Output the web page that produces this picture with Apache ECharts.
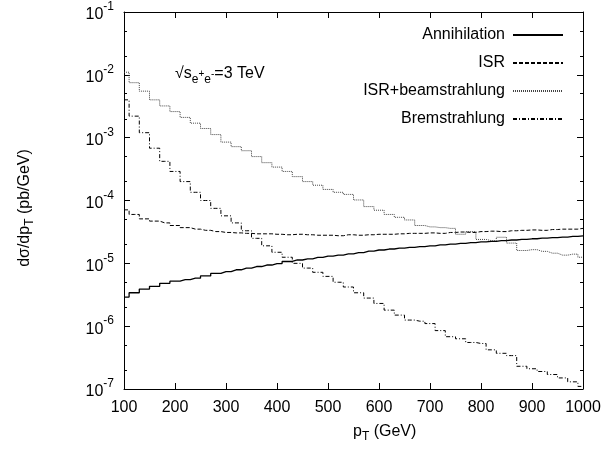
<!DOCTYPE html>
<html>
<head>
<meta charset="utf-8">
<script src="https://cdn.jsdelivr.net/npm/echarts@6/dist/echarts.min.js"></script>
<style>
  html, body { margin: 0; padding: 0; background: #fff; }
  #chart { width: 604px; height: 453px; }
</style>
</head>
<body>
<div id="chart"></div>
<script>
// Photon transverse-momentum spectra at sqrt(s) = 3 TeV (20 GeV bins)
const pT = [100, 120, 140, 160, 180, 200, 220, 240, 260, 280,
            300, 320, 340, 360, 380, 400, 420, 440, 460, 480,
            500, 520, 540, 560, 580, 600, 620, 640, 660, 680,
            700, 720, 740, 760, 780, 800, 820, 840, 860, 880,
            900, 920, 940, 960, 980, 1000];

const annihilation = [2.9e-6, 3.4e-6, 3.9e-6, 4.3e-6, 4.8e-6, 5.2e-6, 5.5e-6, 5.8e-6, 6.3e-6, 6.9e-6,
                      7.4e-6, 7.9e-6, 8.4e-6, 8.9e-6, 9.4e-6, 9.9e-6, 1.07e-5, 1.13e-5, 1.18e-5, 1.24e-5,
                      1.3e-5, 1.35e-5, 1.41e-5, 1.48e-5, 1.56e-5, 1.63e-5, 1.69e-5, 1.74e-5, 1.8e-5, 1.85e-5,
                      1.9e-5, 1.96e-5, 2.02e-5, 2.08e-5, 2.13e-5, 2.19e-5, 2.24e-5, 2.3e-5, 2.35e-5, 2.4e-5,
                      2.46e-5, 2.51e-5, 2.57e-5, 2.62e-5, 2.68e-5, 2.74e-5];

const isr = [7.1e-5, 6.0e-5, 5.1e-5, 4.7e-5, 4.4e-5, 4.0e-5, 3.7e-5, 3.5e-5, 3.35e-5, 3.2e-5,
             3.1e-5, 3.05e-5, 3.0e-5, 2.95e-5, 2.95e-5, 2.9e-5, 2.85e-5, 2.9e-5, 2.85e-5, 2.8e-5,
             2.8e-5, 2.75e-5, 2.85e-5, 2.8e-5, 2.85e-5, 2.9e-5, 2.9e-5, 2.95e-5, 3.0e-5, 3.0e-5,
             3.05e-5, 3.0e-5, 3.1e-5, 3.15e-5, 3.1e-5, 3.2e-5, 3.25e-5, 3.2e-5, 3.3e-5, 3.35e-5,
             3.4e-5, 3.35e-5, 3.45e-5, 3.5e-5, 3.5e-5, 3.6e-5];

const isrBeam = [1.1e-2, 7.5e-3, 5.5e-3, 4.0e-3, 3.2e-3, 2.6e-3, 2.1e-3, 1.7e-3, 1.4e-3, 1.12e-3,
                 8.5e-4, 7.2e-4, 6.2e-4, 5.0e-4, 4.0e-4, 3.4e-4, 2.9e-4, 2.4e-4, 2.0e-4, 1.75e-4,
                 1.5e-4, 1.35e-4, 1.25e-4, 1.02e-4, 8.0e-5, 7.0e-5, 6.0e-5, 5.4e-5, 4.9e-5, 4.0e-5,
                 3.8e-5, 3.7e-5, 3.6e-5, 2.9e-5, 3.2e-5, 2.4e-5, 2.3e-5, 2.6e-5, 2.1e-5, 1.6e-5,
                 1.65e-5, 1.55e-5, 1.45e-5, 1.35e-5, 1.4e-5, 1.25e-5];

const brems = [4.0e-3, 2.2e-3, 1.2e-3, 6.8e-4, 4.2e-4, 2.9e-4, 2.0e-4, 1.35e-4, 1.0e-4, 7.5e-5,
               5.7e-5, 4.4e-5, 3.3e-5, 2.5e-5, 1.9e-5, 1.5e-5, 1.25e-5, 1.0e-5, 8.4e-6, 7.2e-6,
               6.2e-6, 5.0e-6, 4.2e-6, 3.4e-6, 2.8e-6, 2.3e-6, 1.8e-6, 1.5e-6, 1.25e-6, 1.2e-6,
               1.1e-6, 8.5e-7, 6.8e-7, 6.3e-7, 5.5e-7, 5.3e-7, 4.2e-7, 3.7e-7, 3.4e-7, 2.3e-7,
               2.1e-7, 1.9e-7, 1.7e-7, 1.5e-7, 1.3e-7, 1.1e-7];

const seriesNames = ['Annihilation', 'ISR', 'ISR+beamstrahlung', 'Bremstrahlung'];

// Axis ticks
const xTickLabels = ['100', '200', '300', '400', '500', '600', '700', '800', '900', '1000'];
const yTickValues = [1e-7, 1e-6, 1e-5, 1e-4, 1e-3, 1e-2, 1e-1];
const yMinorValues = [2e-7, 5e-7, 2e-6, 5e-6, 2e-5, 5e-5, 2e-4, 5e-4, 2e-3, 5e-3, 2e-2, 5e-2];

const FONT = '"Liberation Sans", Arial, sans-serif';

const pairs = (ys) => pT.map((x, i) => [x, ys[i]]);

const chart = echarts.init(document.getElementById('chart'), null, { renderer: 'canvas' });

const xBase = {
  type: 'value', min: 100, max: 1000, interval: 100,
  axisLine: { show: true, lineStyle: { color: '#000', width: 1 } },
  axisTick: { show: true, inside: true, length: 6, lineStyle: { color: '#000' } },
  splitLine: { show: false }
};

const yBase = {
  type: 'log', logBase: 10, min: 1e-7, max: 1e-1,
  axisLine: { show: true, lineStyle: { color: '#000', width: 1 } },
  axisTick: { show: true, inside: true, length: 6, customValues: yTickValues, lineStyle: { color: '#000' } },
  splitLine: { show: false }
};

const yMinor = {
  type: 'log', logBase: 10, min: 1e-7, max: 1e-1,
  axisLine: { show: false },
  axisLabel: { show: false },
  axisTick: { show: true, inside: true, length: 3, customValues: yMinorValues, lineStyle: { color: '#000' } },
  splitLine: { show: false }
};

const lineCommon = { type: 'line', showSymbol: false, symbol: 'none', step: 'middle', animation: false };

chart.setOption({
  animation: false,
  backgroundColor: '#fff',
  textStyle: { fontFamily: FONT },
  grid: { left: 124, right: 21, top: 12, bottom: 64 },
  legend: {
    orient: 'vertical',
    right: 35,
    top: 22,
    align: 'right',
    itemWidth: 50,
    itemHeight: 14,
    itemGap: 12,
    data: seriesNames,
    itemStyle: { color: 'rgba(0,0,0,0)', borderWidth: 0, opacity: 0 },
    textStyle: { fontFamily: FONT, fontSize: 16, color: '#000', padding: [0, 3, 0, 0] }
  },
  xAxis: [
    Object.assign({}, xBase, {
      position: 'bottom',
      axisLabel: {
        show: true, margin: 11, color: '#000', fontFamily: FONT, fontSize: 16,
        formatter: (v) => xTickLabels[Math.round((v - 100) / 100)]
      }
    }),
    Object.assign({}, xBase, { position: 'top', axisLabel: { show: false } })
  ],
  yAxis: [
    Object.assign({}, yBase, {
      position: 'left',
      axisLabel: {
        show: true, margin: 10, color: '#000', fontFamily: FONT,
        customValues: yTickValues,
        formatter: (v) => '{b|10}{e|' + Math.round(Math.log10(v)) + '}',
        rich: {
          b: { fontSize: 16, fontFamily: FONT, color: '#000', lineHeight: 22, verticalAlign: 'bottom' },
          e: { fontSize: 12, fontFamily: FONT, color: '#000', lineHeight: 12, verticalAlign: 'top' }
        }
      }
    }),
    Object.assign({}, yBase, { position: 'right', axisLabel: { show: false } }),
    Object.assign({}, yMinor, { position: 'left' }),
    Object.assign({}, yMinor, { position: 'right' })
  ],
  series: [
    Object.assign({}, lineCommon, {
      name: seriesNames[0], data: pairs(annihilation),
      lineStyle: { color: '#000', width: 1.3, type: 'solid' }, itemStyle: { color: '#000' }
    }),
    Object.assign({}, lineCommon, {
      name: seriesNames[1], data: pairs(isr),
      lineStyle: { color: '#000', width: 1, type: [4, 2] }, itemStyle: { color: '#000' }
    }),
    Object.assign({}, lineCommon, {
      name: seriesNames[2], data: pairs(isrBeam),
      lineStyle: { color: '#444', width: 1, type: [1, 1] }, itemStyle: { color: '#444' }
    }),
    Object.assign({}, lineCommon, {
      name: seriesNames[3], data: pairs(brems),
      lineStyle: { color: '#000', width: 1, type: [4, 2, 1, 2] }, itemStyle: { color: '#000' }
    })
  ],
  graphic: [
    {
      type: 'text', left: 175, top: 66, silent: true,
      style: {
        text: '{n|√s}{sub|e}{sup|+}{sub|e}{sup|-}{n|=3 TeV}',
        fill: '#000',
        rich: {
          n: { fontSize: 16, fontFamily: FONT, lineHeight: 24, verticalAlign: 'middle' },
          sub: { fontSize: 12, fontFamily: FONT, lineHeight: 12, verticalAlign: 'bottom' },
          sup: { fontSize: 10, fontFamily: FONT, lineHeight: 10, verticalAlign: 'middle' }
        }
      }
    },
    {
      type: 'text', left: 353, top: 424, silent: true,
      style: {
        text: '{n|p}{sub|T}{n| (GeV)}',
        fill: '#000',
        align: 'center',
        rich: {
          n: { fontSize: 16, fontFamily: FONT, lineHeight: 22, verticalAlign: 'middle' },
          sub: { fontSize: 12, fontFamily: FONT, lineHeight: 12, verticalAlign: 'bottom' }
        }
      }
    },
    {
      type: 'text', x: 25, y: 208, rotation: Math.PI / 2, silent: true,
      style: {
        text: '{n|dσ/dp}{sub|T}{n| (pb/GeV)}',
        fill: '#000',
        align: 'center',
        verticalAlign: 'middle',
        rich: {
          n: { fontSize: 16, fontFamily: FONT, lineHeight: 22, verticalAlign: 'middle' },
          sub: { fontSize: 12, fontFamily: FONT, lineHeight: 12, verticalAlign: 'bottom' }
        }
      }
    }
  ]
});
</script>
</body>
</html>
